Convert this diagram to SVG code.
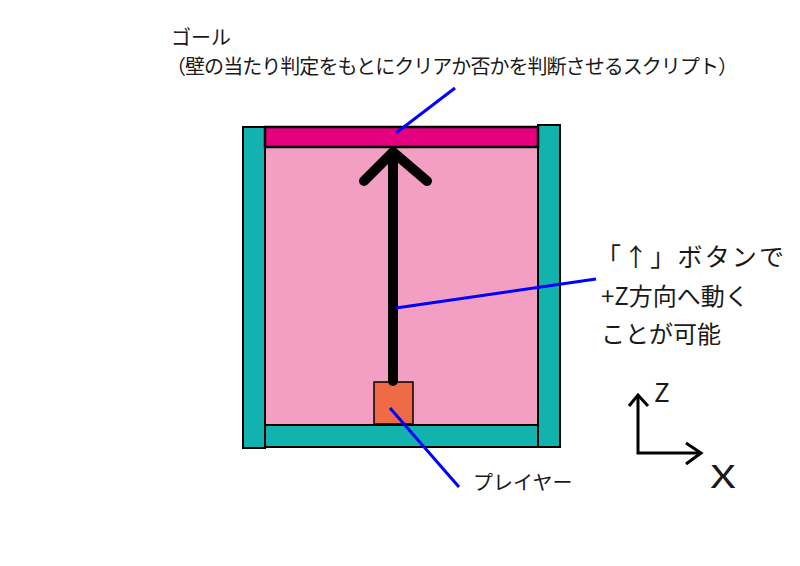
<svg xmlns="http://www.w3.org/2000/svg" width="800" height="566" viewBox="0 0 800 566">
<style>
.t{font-family:"Noto Sans CJK JP","Noto Sans",sans-serif;fill:#1a1a1a}
.wall{fill:#12b3ae;stroke:#000;stroke-width:2}
.lead{stroke:#0000ff;stroke-width:3;fill:none}
.ax{stroke:#000;stroke-width:3;fill:none;stroke-linejoin:miter}
</style>
<rect width="800" height="566" fill="#fff"/>
<g id="field"><rect x="265" y="147" width="273" height="278" fill="#f29fc3" stroke="#000" stroke-width="2"/></g>
<g id="wall-left"><rect class="wall" x="243" y="127" width="22" height="321"/></g>
<g id="wall-right"><rect class="wall" x="538" y="125" width="22" height="322"/></g>
<g id="wall-bottom"><rect class="wall" x="265" y="425" width="273" height="22"/></g>
<g id="goal"><rect x="265" y="127" width="273" height="20" fill="#e4007f" stroke="#000" stroke-width="2.5"/></g>
<g id="player"><rect x="374" y="382" width="39" height="42" fill="#ef6b45" stroke="#000" stroke-width="1.5"/></g>
<g id="move-arrow" stroke="#000" stroke-width="10" stroke-linecap="round" stroke-linejoin="round" fill="none">
<line x1="393" y1="381" x2="393" y2="154"/>
<polyline points="364,181 393,152 427,181"/>
</g>
<g id="connectors">
<line class="lead" x1="455" y1="88" x2="396" y2="133"/>
<line class="lead" x1="596" y1="279" x2="396" y2="308"/>
<line class="lead" x1="390" y1="408" x2="459" y2="487"/>
</g>
<g id="axes">
<polyline class="ax" points="638,395 638,453 701,453"/>
<polyline class="ax" points="629,406 638,395 648,406"/>
<polyline class="ax" points="686,443 701,453 686,464"/>
<text class="t" x="654" y="402" font-size="26">Z</text>
<text class="t" x="710" y="488" font-size="31" textLength="26" lengthAdjust="spacingAndGlyphs">X</text>
</g>
<g id="label-goal">
<text class="t" x="171" y="45" font-size="20">ゴール</text>
<text class="t" x="166" y="74" font-size="20" textLength="572" lengthAdjust="spacing">（壁の当たり判定をもとにクリアか否かを判断させるスクリプト）</text>
</g>
<g id="label-button">
<text class="t" x="596" y="266" font-size="25" textLength="188" lengthAdjust="spacing">「↑」ボタンで</text>
<text class="t" x="601" y="305" font-size="24">+Z方向へ動く</text>
<text class="t" x="601" y="343" font-size="24">ことが可能</text>
</g>
<g id="label-player"><text class="t" x="473" y="490" font-size="20">プレイヤー</text></g>
</svg>
